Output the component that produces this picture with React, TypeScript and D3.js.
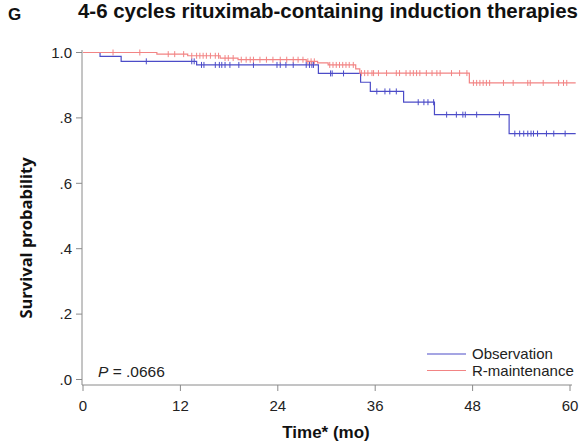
import React from "react";
import * as d3 from "d3";

const title = "4-6 cycles rituximab-containing induction therapies";
const panelLetter = "G";
const xTicks = [0, 12, 24, 36, 48, 60];
const yTicks = [0, 0.2, 0.4, 0.6, 0.8, 1.0];
const yTickLabels = [".0", ".2", ".4", ".6", ".8", "1.0"];
const seriesNames = ["Observation", "R-maintenance"];
const endTime = 60.7;

// Kaplan-Meier step points: [time, survival]
const obsSteps: [number, number][] = [
  [0, 1.0], [2.1, 0.988], [4.7, 0.973], [14.0, 0.962], [29.0, 0.936],
  [34.2, 0.909], [35.4, 0.881], [39.5, 0.848], [43.3, 0.81], [52.5, 0.752],
];
const rmSteps: [number, number][] = [
  [0, 1.0], [9.1, 0.995], [12.9, 0.99], [16.9, 0.983], [19.1, 0.978],
  [27.5, 0.973], [28.9, 0.968], [30.2, 0.962], [33.6, 0.95], [34.1, 0.937],
  [47.6, 0.907],
];
// censoring times
const obsCensor = [
  7.8, 13.4, 13.7, 14.6, 14.9, 16.3, 16.8, 17.1, 17.5, 18.1, 19.2, 21, 23.9, 24.3,
  25, 25.9, 27.5, 27.9, 28.2, 28.4, 30.5, 30.7, 32.1, 36.2, 37.2, 37.8, 38.6,
  41.3, 42, 42.5, 43.2, 44.8, 46, 46.8, 47.1, 48.5, 51.3, 53.2, 53.8, 54.3, 54.8,
  55.2, 55.5, 56, 57.1, 58, 59.4,
];
const rmCensor = [
  3.7, 7, 10.5, 11.3, 12.4, 13.4, 14, 14.4, 14.8, 15.2, 15.7, 16.3, 16.7, 17.5,
  17.9, 18.5, 19.5, 20.1, 20.6, 21, 21.8, 22.6, 23.4, 24.3, 25.1, 25.9, 26.5,
  27.1, 27.7, 28.1, 28.5, 30.4, 30.8, 31.2, 31.6, 32, 32.4, 32.8, 33.3, 34.3,
  34.7, 35.1, 35.6, 35.8, 36.4, 37.4, 38.6, 39, 39.8, 40.3, 40.7, 41.1, 41.5,
  42.3, 43, 43.6, 44, 45.4, 46.4, 47.3, 48.1, 48.5, 48.9, 49.3, 49.7, 50.1,
  51.8, 53, 54.8, 55.1, 56.7, 58.6, 59.2, 59.6,
];
const pText = ".0666";
const xLabel = "Time* (mo)";
const yLabel = "Survival probability";

const BLUE = "#4c4cc8";
const RED = "#f28484";
const AXIS = "#8a8a8a";
const FONT = "'Liberation Sans', Arial, sans-serif";

export default function App() {
  const x = d3.scaleLinear().domain([0, 60]).range([83, 570]);
  const y = d3.scaleLinear().domain([0, 1]).range([379.5, 52.5]);

  const survAt = (steps: [number, number][], t: number) => {
    let v = steps[0][1];
    for (const s of steps) if (s[0] <= t) v = s[1];
    return v;
  };
  const stepLine = d3
    .line<[number, number]>()
    .x((d) => x(d[0]))
    .y((d) => y(d[1]))
    .curve(d3.curveStepAfter);
  const withEnd = (steps: [number, number][]) =>
    [...steps, [endTime, steps[steps.length - 1][1]] as [number, number]];

  const series = [
    { steps: obsSteps, censor: obsCensor, color: BLUE },
    { steps: rmSteps, censor: rmCensor, color: RED },
  ];

  return (
    <svg
      width={581}
      height={442}
      style={{ position: "absolute", left: 0, top: 0, background: "#fff" }}
      fontFamily={FONT}
    >
      <text x={8} y={20} fontSize={17} fontWeight="bold" fill="#111">
        {panelLetter}
      </text>
      <text
        x={78}
        y={18}
        fontSize={20}
        fontWeight="bold"
        fill="#111"
        textLength={500}
        lengthAdjust="spacingAndGlyphs"
      >
        {title}
      </text>

      {/* axes */}
      <line x1={82} x2={82} y1={50} y2={385} stroke={AXIS} strokeWidth={1} />
      <line x1={82} x2={572} y1={385} y2={385} stroke={AXIS} strokeWidth={1} />
      {yTicks.map((t, i) => (
        <g key={"y" + i}>
          <line x1={76} x2={82} y1={y(t)} y2={y(t)} stroke={AXIS} />
          <text
            x={72}
            y={y(t)}
            dy="0.35em"
            textAnchor="end"
            fontSize={15}
            fill="#222"
          >
            {yTickLabels[i]}
          </text>
        </g>
      ))}
      {xTicks.map((t, i) => (
        <g key={"x" + i}>
          <line x1={x(t)} x2={x(t)} y1={385} y2={391} stroke={AXIS} />
          <text
            x={x(t)}
            y={411}
            textAnchor="middle"
            fontSize={15}
            fill="#222"
          >
            {t}
          </text>
        </g>
      ))}
      <text
        x={326}
        y={438}
        textAnchor="middle"
        fontSize={17}
        fontWeight="bold"
        fill="#111"
      >
        {xLabel}
      </text>
      <text
        transform={`translate(32,238) rotate(-90)`}
        textAnchor="middle"
        fontSize={16.5}
        fontWeight={700}
        fontFamily="'Open Sans', sans-serif"
        fill="#111"
      >
        {yLabel}
      </text>

      {/* curves */}
      {series.map((s, i) => (
        <g key={"s" + i}>
          <path
            d={stepLine(withEnd(s.steps)) || ""}
            fill="none"
            stroke={s.color}
            strokeWidth={1.2}
          />
          {s.censor.map((c, j) => (
            <line
              key={j}
              x1={x(c)}
              x2={x(c)}
              y1={y(survAt(s.steps, c)) - 3}
              y2={y(survAt(s.steps, c)) + 3}
              stroke={s.color}
              strokeWidth={1}
            />
          ))}
        </g>
      ))}

      {/* p value */}
      <text x={98} y={377} fontSize={15.5} fill="#222">
        <tspan fontStyle="italic">P</tspan>
        {" = " + pText}
      </text>

      {/* legend */}
      {seriesNames.map((n, i) => (
        <g key={"l" + i}>
          <line
            x1={427}
            x2={466}
            y1={354 + i * 16.5}
            y2={354 + i * 16.5}
            stroke={i === 0 ? BLUE : RED}
            strokeWidth={1.2}
          />
          <text
            x={472}
            y={354 + i * 16.5}
            dy="0.35em"
            fontSize={15}
            fill="#222"
          >
            {n}
          </text>
        </g>
      ))}
    </svg>
  );
}
